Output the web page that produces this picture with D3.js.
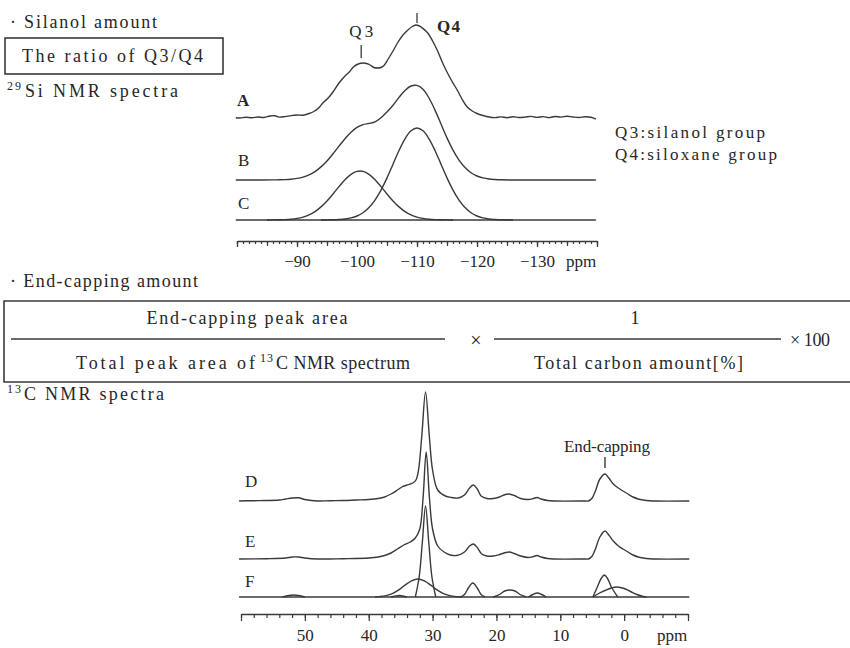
<!DOCTYPE html>
<html><head><meta charset="utf-8">
<script src="https://cdn.jsdelivr.net/npm/d3@7"></script>
<style>
html,body{margin:0;padding:0;background:#fff;}
svg{display:block;}
svg text{font-family:"Liberation Serif";}
</style></head><body>
<svg id="fig" width="850" height="648" font-family="Liberation Serif"></svg>
<script>
// ---- tick labels ----
const siTicks = [-90, -100, -110, -120, -130];
const cTicks = [50, 40, 30, 20, 10, 0];

// ---- 29Si spectra: [ppm, intensity] ----
const siA = [[-79.8,0.3],[-80.5,0],[-81.5,0.8],[-82.5,0.2],[-83.5,1.0],[-84.5,0.5],[-85.5,2.0],[-86.3,2.3],[-87,0.9],[-88,1.4],[-89,2.4],[-90,3.0],[-91,2.8],[-92,4.5],[-92.8,6.5],[-93.6,10],[-94.3,15],[-95.2,20],[-96,26],[-97,35],[-98,42],[-98.8,46.5],[-99.4,51],[-100.2,54],[-101,55],[-101.6,54.5],[-102.2,53],[-102.8,50.5],[-103.4,50],[-104,50.5],[-104.5,52.5],[-105.2,59],[-106,67],[-106.8,75.5],[-107.6,82.5],[-108.4,87.5],[-109.2,91.5],[-109.8,93],[-110.4,92],[-111,89.5],[-111.8,85],[-112.6,77],[-113.4,67.5],[-114.2,56],[-115,46],[-115.8,37],[-116.7,28],[-117.5,19],[-118.3,11.5],[-119.2,7],[-120,4.5],[-121,2.5],[-122,1.0],[-123,0.4],[-124,1.1],[-125,0.3],[-126,1.2],[-127,0.5],[-128,0.9],[-129,1.6],[-130,0.6],[-131,1.4],[-132,0.4],[-133,1.5],[-134,0.9],[-135,1.8],[-136,1.0],[-137,0.5],[-138,1.3],[-139,0.8],[-139.8,-1.0]];
const siB = [[-79.8,0],[-84,0],[-86,0.1],[-87,0.2],[-88,0.4],[-89,0.8],[-90,1.6],[-91,2.9],[-92,5.1],[-93,8.4],[-94,13.1],[-95,19.0],[-96,26.2],[-97,33.9],[-98,41.3],[-99,47.8],[-100,52.6],[-101,55.4],[-102,56.6],[-103,58.2],[-104,62.3],[-105,68.1],[-106,74.8],[-107,82.6],[-108,89.6],[-109,94.0],[-110,94.6],[-111,90.8],[-112,82.0],[-113,69.9],[-114,56.0],[-115,42.1],[-116,29.9],[-117,19.9],[-118,12.5],[-119,7.3],[-120,4.0],[-121,2.1],[-122,1.0],[-123,0.5],[-124,0.2],[-126,0],[-139.8,0]];
const siCQ3 = [[-85,0],[-87,0.2],[-88,0.4],[-89,0.8],[-90,1.6],[-91,2.9],[-92,5.1],[-93,8.4],[-94,13.1],[-95,19.0],[-96,26.0],[-97,33.4],[-98,40.3],[-99,45.7],[-100,48.6],[-101,48.6],[-102,45.7],[-103,40.3],[-104,33.4],[-105,26.0],[-106,19.0],[-107,13.1],[-108,8.4],[-109,5.1],[-110,2.9],[-111,1.6],[-112,0.8],[-113,0.4],[-114,0.2],[-116,0]];
const siCQ4 = [[-94,0],[-96,0.2],[-97,0.5],[-98,1.0],[-99,2.1],[-100,4.0],[-101,7.3],[-102,12.5],[-103,19.9],[-104,29.9],[-105,42.1],[-106,55.8],[-107,69.5],[-108,81.2],[-109,89.2],[-110,92],[-111,89.2],[-112,81.2],[-113,69.5],[-114,55.8],[-115,42.1],[-116,29.9],[-117,19.9],[-118,12.5],[-119,7.3],[-120,4.0],[-121,2.1],[-122,1.0],[-123,0.5],[-124,0.2],[-126,0]];
const siMarks = [{label: "Q3", ppm: -100.7}, {label: "Q4", ppm: -110}];

// ---- 13C spectra: [ppm, intensity] ----
const cD = [[60.3,0],[58,0.3],[56,0.5],[54,1],[53,2],[52,3],[51,3.2],[50,1.5],[49,0.5],[48,0],[46,0.3],[44,0.5],[42,1],[40,1.5],[38.5,2.5],[37.5,4],[36.5,7],[35.5,11],[34.8,14],[34.0,16],[33.1,18],[32.6,21],[32.2,31],[31.7,64],[31.1,109],[30.5,64],[30.0,31],[29.2,11],[28.0,5],[27,3.5],[26,3],[25,6],[24.2,13],[23.6,16],[23,12],[22.4,5],[21.5,2.5],[20.5,2.5],[19.5,4],[18.6,6.5],[18,7],[17.2,5.5],[16.2,2.5],[15,1.5],[14.2,2.5],[13.6,3.5],[13,2],[12,0.5],[11,0],[6,0],[5.6,0],[5.0,3],[4.5,10],[3.8,22],[3.0,27],[2.4,23],[1.7,17],[0.9,13],[0.2,10],[-0.6,7],[-1.4,4],[-2.2,2],[-3,1],[-4,0.3],[-5,0],[-10.2,0]];
const cE = [[60.3,0],[56,0.3],[53,1],[52,2],[51,2],[50,1],[48,0],[44,0.3],[40,1],[38.5,2],[37.5,3.5],[36.5,6],[35.5,10],[34.5,14],[33.5,17],[32.7,21],[32.0,30],[31.5,60],[31.0,107],[30.5,62],[30.0,30],[29.2,13],[28.2,7],[27.2,4],[26.2,3.5],[25,7],[24.2,13],[23.6,15],[23,11.5],[22.3,5],[21.5,3],[20.5,3],[19.5,4.5],[18.5,6.5],[18,7],[17.2,5.5],[16.2,3],[15,1.5],[14.2,2.5],[13.6,3.5],[13,2],[12,0.5],[11,0],[6,0],[5.6,0],[5.0,3],[4.5,10],[3.8,22],[3.0,28],[2.4,24],[1.7,18],[0.9,13],[0.2,10],[-0.6,7],[-1.4,4],[-2.2,2],[-3,1],[-4,0.3],[-5,0],[-10.2,0]];
// deconvoluted components of F
const cF52 = [[53.5,0],[52.5,1.5],[51.8,2],[51,1.5],[50,0]];
const cF35 = [[36.5,0],[35.2,1.5],[34,0]];
const cF32 = [[39,0],[38.3,0.4],[37.3,1.4],[36.3,3.4],[35.3,7.1],[34.3,11.9],[33.3,16.2],[32.3,18],[31.3,16.2],[30.3,11.9],[29.3,7.1],[28.3,3.4],[27.3,1.4],[26.3,0.4],[25.5,0]];
const cF31 = [[32.7,0],[32.1,20],[31.6,55],[31.1,91],[30.6,55],[30.1,20],[29.5,0]];
const cF24 = [[25.6,0],[25,2.5],[24.4,9],[23.7,14],[23,9],[22.4,2.5],[21.8,0]];
const cF18 = [[20.5,0],[19.5,2.5],[18.7,6],[17.9,7],[17.1,6],[16.3,2.5],[15.3,0]];
const cF14 = [[15,0],[14.3,2.5],[13.6,4],[12.9,2.5],[12.2,0]];
const cF3  = [[4.9,0],[4.2,10],[3.6,18.5],[3.1,22],[2.6,18.5],[2.0,10],[1.0,0]];
const cF1  = [[4.9,0],[4,3.5],[3,6.5],[2,9],[1.1,10],[0,8.5],[-1,5.5],[-2,2.5],[-3,0.5],[-3.5,0]];
const cFParts = [cF52, cF35, cF32, cF31, cF24, cF18, cF14, cF3, cF1];
const cMarks = [{label: "End-capping", ppm: 3.0}];

// ---- drawing ----
const svg = d3.select("#fig");
const FONT = "Liberation Serif";
const INK = "#262626", LINE = "#3a3a3a";
const fmt = d3.format("d");

function text(x, y, s, o = {}) {
  const t = svg.append("text").attr("x", x).attr("y", y)
    .attr("font-family", FONT)
    .attr("font-size", o.size || 17).attr("fill", INK)
    .attr("text-anchor", o.anchor || "start").text(s);
  if (o.len) t.attr("textLength", o.len).attr("lengthAdjust", "spacing");
  if (o.weight) t.attr("font-weight", o.weight);
  return t;
}

// header block for silanol amount
text(10, 28, "· Silanol amount", {size: 18, len: 147});
svg.append("rect").attr("x", 5).attr("y", 38).attr("width", 218).attr("height", 36)
  .attr("fill", "none").attr("stroke", LINE).attr("stroke-width", 1.6);
text(22, 62, "The ratio of Q3/Q4", {size: 18, len: 181});
text(7, 90, "29", {size: 12, len: 14});
text(25, 97, "Si NMR spectra", {size: 18, len: 153});

// 29Si panel
const xSi = d3.scaleLinear().domain([-80, -140]).range([237, 597]);
const amp = d3.scaleLinear().domain([0, 100]).range([0, 100]);
const siRows = {A: 118, B: 180, C: 220};
const specLine = (xs, base) => d3.line()
  .x(d => xs(d[0])).y(d => base - amp(d[1]))
  .curve(d3.curveCatmullRom.alpha(0.5));
const strokePath = (data, gen) => svg.append("path").datum(data).attr("d", gen)
  .attr("fill", "none").attr("stroke", LINE).attr("stroke-width", 1.4)
  .attr("stroke-linejoin", "round");

strokePath(siA, specLine(xSi, siRows.A));
strokePath(siB, specLine(xSi, siRows.B));
strokePath([[-79.8, 0], [-139.8, 0]], specLine(xSi, siRows.C));
strokePath(siCQ3, specLine(xSi, siRows.C));
strokePath(siCQ4, specLine(xSi, siRows.C));

text(237, 106, "A", {weight: "bold"});
text(238, 166, "B");
text(238, 209, "C");

// peak marks above A
const q3 = siMarks[0], q4 = siMarks[1];
svg.append("line").attr("x1", xSi(q3.ppm)).attr("x2", xSi(q3.ppm)).attr("y1", 45).attr("y2", 58)
  .attr("stroke", LINE).attr("stroke-width", 1.3);
text(xSi(q3.ppm), 37, q3.label, {anchor: "middle", len: 24});
svg.append("line").attr("x1", xSi(q4.ppm)).attr("x2", xSi(q4.ppm)).attr("y1", 13).attr("y2", 23)
  .attr("stroke", LINE).attr("stroke-width", 1.3);
text(437, 32, q4.label, {len: 23, weight: "bold"});

text(615, 138, "Q3:silanol group", {len: 150});
text(615, 160, "Q4:siloxane group", {len: 162});

// 29Si axis
function styleAxis(g) {
  g.attr("font-family", FONT);
  g.selectAll("line").attr("stroke", LINE).attr("stroke-width", 1.2);
  g.selectAll("path").attr("stroke", LINE).attr("stroke-width", 1.3);
  g.selectAll("text").attr("fill", INK).attr("font-size", 17).attr("font-family", FONT);
}
const siAxisY = 241;
svg.append("g").attr("transform", `translate(0,${siAxisY})`)
  .call(d3.axisBottom(xSi).tickValues(d3.range(-80, -140.5, -1)).tickSize(3).tickSizeOuter(0).tickFormat(""))
  .call(styleAxis);
svg.append("g").attr("transform", `translate(0,${siAxisY})`)
  .call(d3.axisBottom(xSi).tickValues(d3.range(-80, -140.5, -5)).tickSize(5).tickSizeOuter(0).tickFormat(""))
  .call(g => g.select(".domain").remove()).call(styleAxis);
svg.append("g").attr("transform", `translate(0,${siAxisY})`)
  .call(d3.axisBottom(xSi).tickValues(d3.range(-80, -140.5, -10)).tickSize(6).tickSizeOuter(0).tickPadding(8)
    .tickFormat(d => siTicks.includes(d) ? fmt(d) : ""))
  .call(g => g.select(".domain").remove()).call(styleAxis);
text(581, 267, "ppm", {anchor: "middle"});

// header block for end-capping amount
text(10, 287, "· End-capping amount", {size: 18, len: 188});
svg.append("path").attr("d", "M860,301H4V382H860")
  .attr("fill", "none").attr("stroke", LINE).attr("stroke-width", 1.6);
text(247, 324, "End-capping peak area", {size: 18, anchor: "middle", len: 201});
svg.append("line").attr("x1", 11).attr("x2", 445).attr("y1", 339).attr("y2", 339)
  .attr("stroke", LINE).attr("stroke-width", 1.5);
text(76, 369, "Total peak area of", {size: 18, len: 179});
text(260, 362, "13", {size: 12, len: 13});
text(276, 369, "C NMR spectrum", {size: 18, len: 134});
text(476, 347, "×", {size: 20, anchor: "middle"});
text(635, 324, "1", {size: 18, anchor: "middle"});
svg.append("line").attr("x1", 494).attr("x2", 781).attr("y1", 339).attr("y2", 339)
  .attr("stroke", LINE).attr("stroke-width", 1.5);
text(534, 369, "Total carbon amount[%]", {size: 18, len: 209});
text(790, 346, "× 100", {size: 18, len: 40});

text(7, 393, "13", {size: 12, len: 14});
text(24, 400, "C NMR spectra", {size: 18, len: 140});

// 13C panel
const xC = d3.scaleLinear().domain([60, -10]).range([241, 688]);
const cRows = {D: 501, E: 559, F: 597};
strokePath(cD, specLine(xC, cRows.D));
strokePath(cE, specLine(xC, cRows.E));
strokePath([[60.3, 0], [-10.2, 0]], specLine(xC, cRows.F));
cFParts.forEach(p => strokePath(p, specLine(xC, cRows.F)));

text(245, 487, "D");
text(245, 547, "E");
text(245, 587, "F");

const ec = cMarks[0];
svg.append("line").attr("x1", xC(ec.ppm)).attr("x2", xC(ec.ppm)).attr("y1", 457).attr("y2", 468)
  .attr("stroke", LINE).attr("stroke-width", 1.4);
text(xC(ec.ppm) + 2, 452, ec.label, {anchor: "middle", len: 86});

const cAxisY = 614;
svg.append("g").attr("transform", `translate(0,${cAxisY})`)
  .call(d3.axisBottom(xC).tickValues(d3.range(60, -10.5, -2)).tickSize(4).tickSizeOuter(0).tickFormat(""))
  .call(styleAxis);
svg.append("g").attr("transform", `translate(0,${cAxisY})`)
  .call(d3.axisBottom(xC).tickValues(d3.range(60, -10.5, -10)).tickSize(7).tickSizeOuter(0).tickPadding(8)
    .tickFormat(d => cTicks.includes(d) ? fmt(d) : ""))
  .call(g => g.select(".domain").remove()).call(styleAxis);
text(672, 641, "ppm", {anchor: "middle"});
</script>
</body></html>
